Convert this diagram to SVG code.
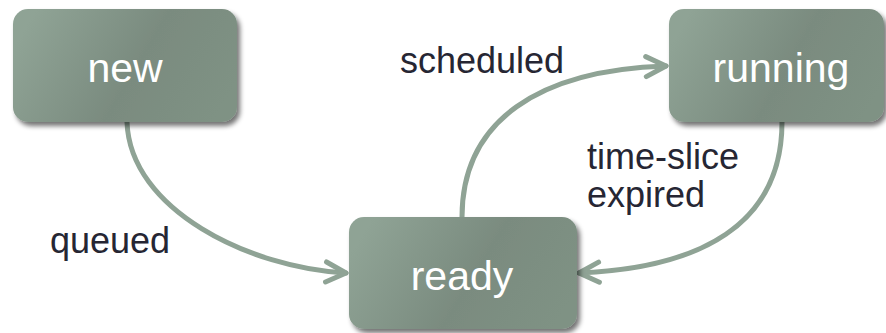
<svg xmlns="http://www.w3.org/2000/svg" width="886" height="333" viewBox="0 0 886 333">
  <style>
    .box { fill: url(#boxFill); filter: url(#drop); }
    .name { font-family: "Liberation Sans", Arial, sans-serif; font-size: 41px; fill: #ffffff; text-anchor: middle; }
    .label { font-family: "Liberation Sans", Arial, sans-serif; font-size: 36px; fill: #262633; }
    .edge { fill: none; stroke: #8fa395; stroke-width: 5; stroke-linecap: round; }
  </style>
  <defs>
    <linearGradient id="boxFill" x1="0" y1="0.35" x2="1" y2="0.65">
      <stop offset="0" stop-color="#8fa395"/>
      <stop offset="0.55" stop-color="#7a8b7f"/>
      <stop offset="1" stop-color="#7f9284"/>
    </linearGradient>
    <filter id="drop" x="-10%" y="-10%" width="125%" height="130%">
      <feGaussianBlur in="SourceAlpha" stdDeviation="2.5"/>
      <feOffset dx="3" dy="4" result="blur"/>
      <feComponentTransfer><feFuncA type="linear" slope="0.55"/></feComponentTransfer>
      <feMerge><feMergeNode/><feMergeNode in="SourceGraphic"/></feMerge>
    </filter>
    <marker id="head" markerUnits="userSpaceOnUse" markerWidth="30" markerHeight="30" viewBox="-26 -15 30 30" refX="0" refY="0" orient="auto">
      <path d="M-20,-10 L0,0 L-20,10" fill="none" stroke="#8fa395" stroke-width="5" stroke-linecap="round" stroke-linejoin="round"/>
    </marker>
  </defs>

  <g id="connectors">
    <path class="edge" d="M127,122 C130,210 250,268 346,273" marker-end="url(#head)"/>
    <path class="edge" d="M462,217 C462,120 540,70 666,66" marker-end="url(#head)"/>
    <path class="edge" d="M782,122 C782,225 700,268 579,273" marker-end="url(#head)"/>
    <text class="label" x="50" y="253">queued</text>
    <text class="label" x="400" y="73">scheduled</text>
    <text class="label" x="587" y="169">time-slice</text>
    <text class="label" x="587" y="207">expired</text>
  </g>

  <g id="new">
    <rect class="box" x="13" y="9" width="224" height="113" rx="15"/>
    <text class="name" x="125" y="82">new</text>
  </g>
  <g id="running">
    <rect class="box" x="669" y="9" width="215" height="113" rx="15"/>
    <text class="name" x="781" y="82">running</text>
  </g>
  <g id="ready">
    <rect class="box" x="349" y="217" width="228" height="112" rx="15"/>
    <text class="name" x="462" y="290">ready</text>
  </g>
</svg>
